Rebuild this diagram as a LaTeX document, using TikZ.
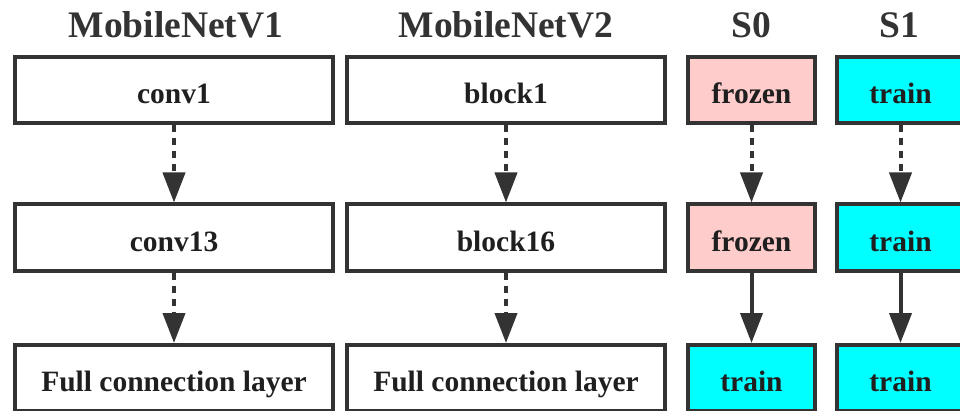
\documentclass[tikz,border=0pt]{standalone}
\usepackage{fontspec}
\setmainfont{LiberationSerif}[Extension=.ttf, UprightFont=*-Regular, BoldFont=*-Bold, ItalicFont=*-Italic, BoldItalicFont=*-BoldItalic]
\usetikzlibrary{arrows.meta}
\definecolor{edge}{HTML}{333333}
\definecolor{pinkfill}{HTML}{FFCCCC}
\definecolor{cyanfill}{HTML}{00FFFF}
\begin{document}
\begin{tikzpicture}[x=1pt,y=1pt,
  box/.style={draw=edge, line width=4pt, fill=white, minimum height=66pt, inner sep=0pt,
    text height=27pt, text depth=0pt,
    font=\fontsize{29.5}{30}\selectfont\bfseries, text=black!88},
  wide/.style={box, minimum width=318pt},
  narrow/.style={box, minimum width=127pt},
  frozenbox/.style={narrow, fill=pinkfill},
  trainbox/.style={narrow, fill=cyanfill},
  title/.style={anchor=base, font=\fontsize{37.5}{39}\selectfont\bfseries, text=black!80},
  dasharrow/.style={draw=edge, line width=4pt, dash pattern=on 7pt off 6pt, -{Triangle[length=30pt,width=22pt]}},
  solidarrow/.style={draw=edge, line width=4pt, -{Triangle[length=30pt,width=22pt]}}
]
\useasboundingbox (0,0) rectangle (960,410);
\fill[white] (0,0) rectangle (960,410);

\node[title] (t1) at (176,372) {MobileNetV1};
\node[title] (t2) at (506,372) {MobileNetV2};
\node[title] (t3) at (751.5,372) {S0};
\node[title] (t4) at (899,372) {S1};

\node[wide] (a1) at (174,320) {conv1};
\node[wide] (a2) at (174,172.5) {conv13};
\node[wide] (a3) at (174,32) {Full connection layer};

\node[wide] (b1) at (506,320) {block1};
\node[wide] (b2) at (506,172.5) {block16};
\node[wide] (b3) at (506,32) {Full connection layer};

\node[frozenbox] (c1) at (751.5,320) {frozen};
\node[frozenbox] (c2) at (751.5,172.5) {frozen};
\node[trainbox] (c3) at (751.5,32) {train};

\node[trainbox] (d1) at (900.5,320) {train};
\node[trainbox] (d2) at (900.5,172.5) {train};
\node[trainbox] (d3) at (900.5,32) {train};

\draw[dasharrow] (a1.south) -- (a2.north);
\draw[dasharrow] (a2.south) -- (a3.north);
\draw[dasharrow] (b1.south) -- (b2.north);
\draw[dasharrow] (b2.south) -- (b3.north);
\draw[dasharrow] (c1.south) -- (c2.north);
\draw[solidarrow] (c2.south) -- (c3.north);
\draw[dasharrow] (d1.south) -- (d2.north);
\draw[solidarrow] (d2.south) -- (d3.north);
\end{tikzpicture}
\end{document}
